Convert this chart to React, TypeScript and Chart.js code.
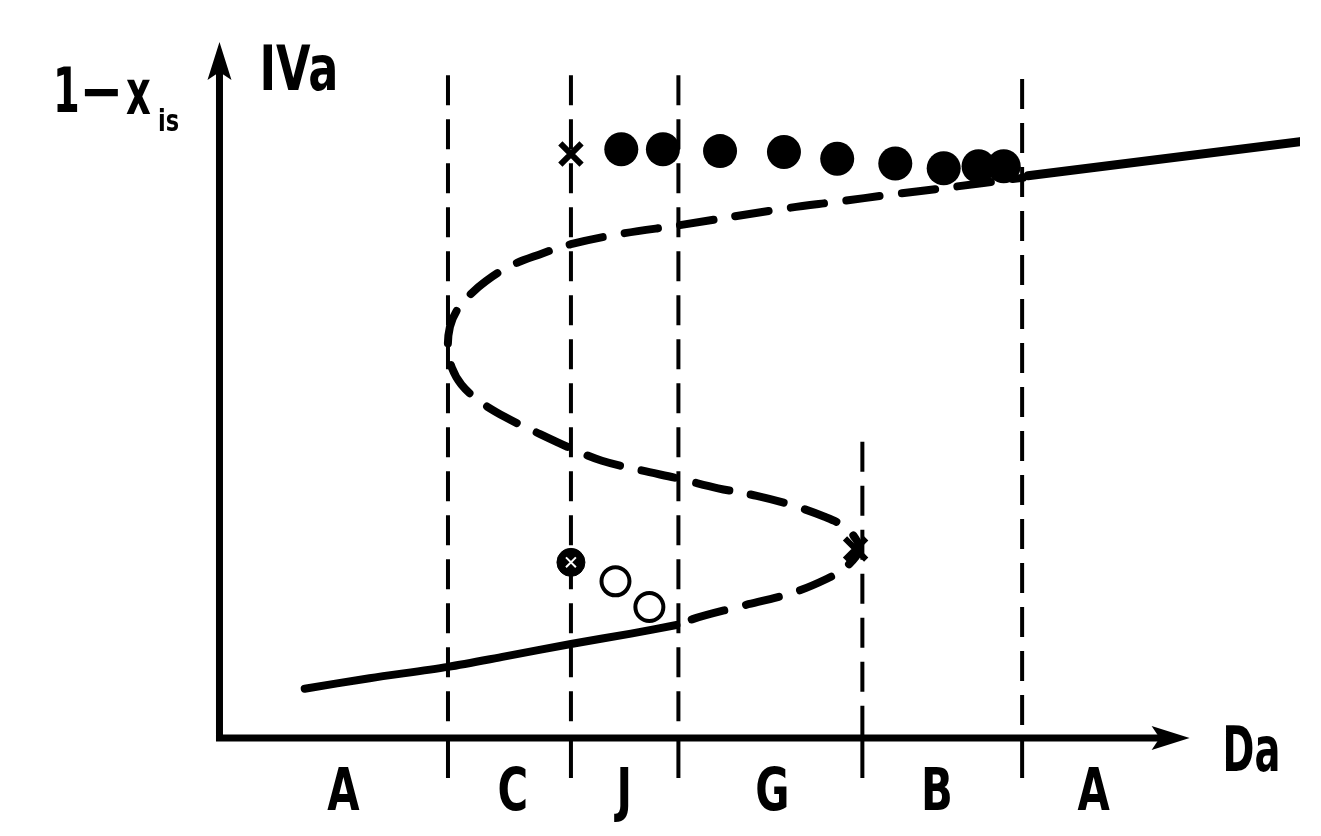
import React, { useEffect, useRef } from "react";
import { Chart, registerables } from "chart.js";

Chart.register(...registerables);

// ---- schematic data (abscissa: Da, ordinate: 1 - x_is) ----
const lowerSolidX = [0.88, 1.55, 2.36, 2.95, 3.63, 4.25, 4.72];
const lowerSolidY = [0.52, 0.63, 0.75, 0.86, 0.99, 1.1, 1.19];

const sCurveX = [4.75, 4.88, 5.35, 5.92, 6.28, 6.47, 6.61, 6.57, 6.45, 6.25, 5.92, 5.55, 5.15, 4.75, 4.35, 3.95, 3.63, 3.25, 2.95, 2.68, 2.5, 2.4, 2.36, 2.38, 2.45, 2.57, 2.75, 3.0, 3.3, 3.63, 4.15, 4.75, 5.8, 6.4, 6.92, 7.48, 8.3];
const sCurveY = [1.18, 1.25, 1.38, 1.53, 1.68, 1.8, 1.98, 2.1, 2.23, 2.33, 2.45, 2.55, 2.63, 2.73, 2.82, 2.92, 3.05, 3.23, 3.38, 3.55, 3.72, 3.9, 4.1, 4.33, 4.5, 4.65, 4.81, 4.97, 5.09, 5.2, 5.31, 5.4, 5.57, 5.65, 5.72, 5.79, 5.9];

const upperSolidX = [8.35, 11.16];
const upperSolidY = [5.92, 6.28];

const filledX = [4.15, 4.58, 5.17, 5.83, 6.38, 6.98, 7.48, 7.84, 8.1];
const filledY = [6.2, 6.2, 6.18, 6.17, 6.1, 6.05, 6.0, 6.02, 6.02];

const openX = [4.09, 4.44];
const openY = [1.65, 1.38];

const crossX = [3.63, 6.57];
const crossY = [6.15, 1.99];

const circledCrossX = [3.63];
const circledCrossY = [1.85];

const boundaryX = [2.36, 3.63, 4.74, 6.64, 8.29];
const boundaryTop = [6.98, 6.98, 6.98, 3.12, 6.94];
const tickBottom = -0.42;

const regionLabels = ["A", "C", "J", "G", "B", "A"];
const regionCenters = [1.28, 3.03, 4.18, 5.71, 7.41, 9.03];

const xAxisEnd = 10.02;
const yAxisEnd = 7.33;

const X_MIN = -2.05;
const X_MAX = 11.16;
const Y_MIN = -0.81;
const Y_MAX = 7.55;

const pts = (xs: number[], ys: number[]) => xs.map((x, i) => ({ x, y: ys[i] }));

const FONT = '"DejaVu Sans", "Liberation Sans", sans-serif';

function drawText(
  ctx: CanvasRenderingContext2D,
  s: string,
  x: number,
  y: number,
  size: number,
  sx: number,
  align: CanvasTextAlign
) {
  ctx.save();
  ctx.translate(x, y);
  ctx.scale(sx, 1);
  ctx.font = `bold ${size}px ${FONT}`;
  ctx.textAlign = align;
  ctx.textBaseline = "alphabetic";
  ctx.fillStyle = "#000";
  ctx.fillText(s, 0, 0);
  ctx.restore();
}

const axesPlugin = {
  id: "schematicAxes",
  beforeDatasetsDraw(chart: any) {
    const ctx: CanvasRenderingContext2D = chart.ctx;
    const xs = chart.scales.x;
    const ys = chart.scales.y;
    const ox = xs.getPixelForValue(0);
    const oy = ys.getPixelForValue(0);
    const xt = xs.getPixelForValue(xAxisEnd);
    const yt = ys.getPixelForValue(yAxisEnd);
    ctx.save();
    ctx.strokeStyle = "#000";
    ctx.fillStyle = "#000";
    ctx.lineWidth = 7;
    ctx.lineCap = "square";
    ctx.beginPath();
    ctx.moveTo(ox, yt + 30);
    ctx.lineTo(ox, oy);
    ctx.lineTo(xt - 30, oy);
    ctx.stroke();
    // arrow heads
    ctx.beginPath();
    ctx.moveTo(xt, oy);
    ctx.lineTo(xt - 38, oy - 12);
    ctx.lineTo(xt - 30, oy);
    ctx.lineTo(xt - 38, oy + 12);
    ctx.closePath();
    ctx.fill();
    ctx.beginPath();
    ctx.moveTo(ox, yt);
    ctx.lineTo(ox - 12, yt + 38);
    ctx.lineTo(ox, yt + 30);
    ctx.lineTo(ox + 12, yt + 38);
    ctx.closePath();
    ctx.fill();
    ctx.restore();
  },
  afterDatasetsDraw(chart: any) {
    const ctx: CanvasRenderingContext2D = chart.ctx;
    const xs = chart.scales.x;
    const ys = chart.scales.y;
    const ox = xs.getPixelForValue(0);
    const oy = ys.getPixelForValue(0);
    const xt = xs.getPixelForValue(xAxisEnd);
    const yt = ys.getPixelForValue(yAxisEnd);
    // region labels below the Da axis
    regionLabels.forEach((lab, i) => {
      drawText(ctx, lab, xs.getPixelForValue(regionCenters[i]), oy + 72, 58, 0.72, "center");
    });
    // axis titles
    drawText(ctx, "Da", xt + 33, oy + 33, 62, 0.62, "left");
    drawText(ctx, "IVa", ox + 40, yt + 48, 62, 0.72, "left");
    // 1 − x_is
    drawText(ctx, "1", ox - 153, yt + 70, 62, 0.62, "center");
    drawText(ctx, "\u2212", ox - 118, yt + 70, 62, 0.85, "center");
    drawText(ctx, "x", ox - 81, yt + 72, 62, 0.62, "center");
    drawText(ctx, "is", ox - 51, yt + 89, 30, 0.75, "center");
  },
};

export default function App() {
  const ref = useRef<HTMLCanvasElement | null>(null);

  useEffect(() => {
    if (!ref.current) return;
    const lineBase = {
      showLine: true,
      pointRadius: 0,
      pointHoverRadius: 0,
      borderColor: "#000",
      backgroundColor: "#000",
      fill: false,
    };
    const datasets: any[] = [
      {
        label: "filled",
        data: pts(filledX, filledY),
        pointStyle: "circle",
        pointRadius: 17,
        backgroundColor: "#000",
        borderColor: "#000",
        borderWidth: 0,
        showLine: false,
        order: 0,
      },
      {
        label: "open",
        data: pts(openX, openY),
        pointStyle: "circle",
        pointRadius: 14,
        backgroundColor: "#fff",
        borderColor: "#000",
        borderWidth: 4,
        showLine: false,
        order: 0,
      },
      {
        label: "cross",
        data: pts(crossX, crossY),
        pointStyle: "crossRot",
        pointRadius: 15,
        borderColor: "#000",
        borderWidth: 6,
        showLine: false,
        order: 0,
      },
      {
        label: "circledCrossMark",
        data: pts(circledCrossX, circledCrossY),
        pointStyle: "crossRot",
        pointRadius: 7,
        borderColor: "#fff",
        borderWidth: 2,
        showLine: false,
        order: 0,
      },
      {
        label: "circledCross",
        data: pts(circledCrossX, circledCrossY),
        pointStyle: "circle",
        pointRadius: 14,
        backgroundColor: "#000",
        borderColor: "#000",
        borderWidth: 1,
        showLine: false,
        order: 1,
      },
      {
        ...lineBase,
        label: "lower",
        data: pts(lowerSolidX, lowerSolidY),
        borderWidth: 8,
        tension: 0.3,
        borderCapStyle: "round",
        order: 2,
      },
      {
        ...lineBase,
        label: "unstable",
        data: pts(sCurveX, sCurveY),
        borderWidth: 8,
        borderDash: [34, 22],
        borderDashOffset: -14,
        borderCapStyle: "round",
        borderJoinStyle: "round",
        tension: 0.35,
        order: 2,
      },
      {
        ...lineBase,
        label: "upper",
        data: pts(upperSolidX, upperSolidY),
        borderWidth: 9,
        borderCapStyle: "round",
        order: 2,
      },
    ];
    boundaryX.forEach((bx, i) => {
      datasets.push({
        ...lineBase,
        label: "boundary" + i,
        data: [
          { x: bx, y: boundaryTop[i] },
          { x: bx, y: 0 },
        ],
        borderWidth: 4,
        borderDash: [30, 14],
        order: 3,
      });
      datasets.push({
        ...lineBase,
        label: "tick" + i,
        data: [
          { x: bx, y: 0 },
          { x: bx, y: tickBottom },
        ],
        borderWidth: 4,
        order: 3,
      });
    });

    const chart = new Chart(ref.current, {
      type: "scatter",
      data: { datasets },
      options: {
        animation: false,
        responsive: false,
        events: [],
        layout: { padding: 0 },
        plugins: {
          legend: { display: false },
          tooltip: { enabled: false },
        },
        scales: {
          x: { type: "linear", min: X_MIN, max: X_MAX, display: false },
          y: { type: "linear", min: Y_MIN, max: Y_MAX, display: false },
        },
      },
      plugins: [axesPlugin],
    } as any);
    return () => chart.destroy();
  }, []);

  return (
    <div style={{ position: "fixed", left: 0, top: 0, width: 1321, height: 836, background: "#fff" }}>
      <canvas ref={ref} width={1321} height={836} style={{ display: "block" }} />
    </div>
  );
}
